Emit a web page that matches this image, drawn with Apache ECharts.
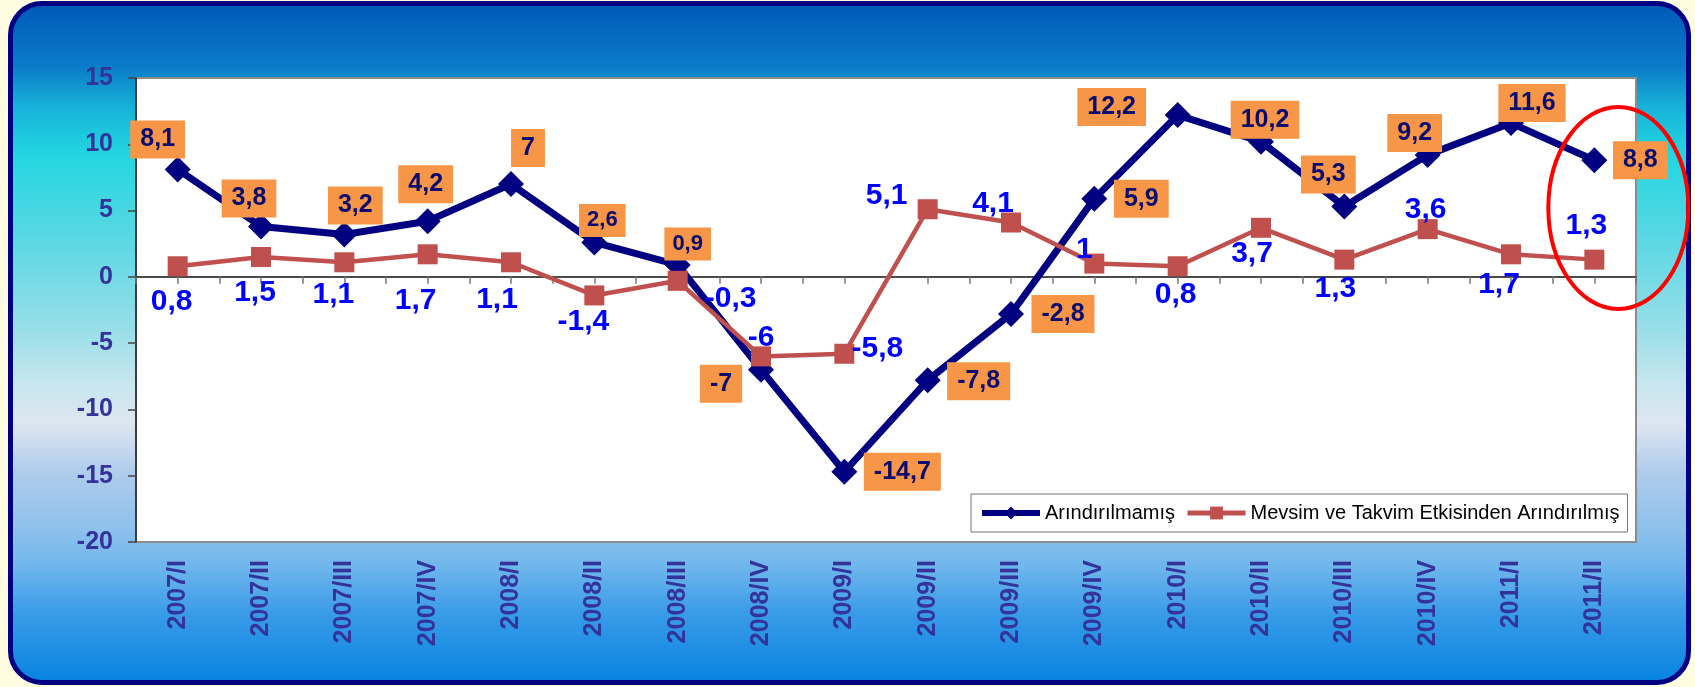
<!DOCTYPE html>
<html>
<head>
<meta charset="utf-8">
<script src="https://cdn.jsdelivr.net/npm/echarts@6/dist/echarts.min.js"></script>
<style>
html,body{margin:0;padding:0;width:1695px;height:687px;overflow:hidden;background:#fffce2;}
#frame{position:absolute;left:8px;top:1px;width:1683px;height:684px;box-sizing:border-box;border:5px solid #000080;border-radius:34px;
background:linear-gradient(to bottom,#005ab8 0%,#0a7cc8 9%,#18b2d8 15%,#22d6e0 22%,#5cd8e4 35%,#98dee8 48%,#c8e6ee 56%,#dde6f0 62%,#b0ccec 69%,#8cc0ec 78%,#70b6ec 83%,#3a9ce8 90%,#0884e0 100%);}
#chart{position:absolute;left:0;top:0;width:1695px;height:687px;}
</style>
</head>
<body>
<div id="frame"></div>
<div id="chart"></div>
<script>
const categories = ['2007/I','2007/II','2007/III','2007/IV','2008/I','2008/II','2008/III','2008/IV','2009/I','2009/II','2009/III','2009/IV','2010/I','2010/II','2010/III','2010/IV','2011/I','2011/II'];
const seriesNames = ['Arındırılmamış','Mevsim ve Takvim Etkisinden Arındırılmış'];
const rawValues = [8.1,3.8,3.2,4.2,7,2.6,0.9,-7,-14.7,-7.8,-2.8,5.9,12.2,10.2,5.3,9.2,11.6,8.8];
const adjValues = [0.8,1.5,1.1,1.7,1.1,-1.4,-0.3,-6,-5.8,5.1,4.1,1,0.8,3.7,1.3,3.6,1.7,1.3];
const yTicks = {min:-20, max:15, interval:5};

// label placement (pixel offsets from each point)
const rawLabelOffsets = [[-20,-30],[-12,-28],[11,-29],[-2,-37],[17,-36],[8,-22],[10,-21],[-40,14],[58,0],[51,1],[52,0],[47,0],[-66,-8],[4,-22],[-16,-32],[-13,-22],[21,-20],[46,0]];
const rawLabelSmall = [5,6];
const adjLabelOffsets = [[-6,35],[-6,36],[-11,32],[-12,46],[-14,37],[-11,26],[53,18],[0,-19],[33,-5],[-41,-14],[-18,-19],[-10,-14],[-2,28],[-9,26],[-9,29],[-2,-19],[-12,30],[-8,-34]];

const fmt = v => String(v).replace('.', ',');
const FONT = '"Liberation Sans", Arial, sans-serif';

const rawData = rawValues.map((v,i)=>({
  value:v,
  label:rawLabelSmall.includes(i)
    ? {offset:rawLabelOffsets[i], fontSize:22, padding:[6,8,5,8]}
    : {offset:rawLabelOffsets[i]}
}));
const adjData = adjValues.map((v,i)=>({
  value:v,
  label:{offset:adjLabelOffsets[i]}
}));

const chart = echarts.init(document.getElementById('chart'), null, {renderer:'canvas'});
const option = {
  backgroundColor:'transparent',
  animation:false,
  textStyle:{fontFamily:FONT},
  grid:{left:136, right:59, top:78, bottom:145, show:true, backgroundColor:'#ffffff', borderColor:'#8c8c8c', borderWidth:2},
  legend:{
    left:971, top:494, orient:'horizontal',
    backgroundColor:'#ffffff', borderColor:'#777', borderWidth:1,
    padding:[9,8], itemGap:10, itemWidth:58, itemHeight:16,
    textStyle:{fontSize:20, color:'#000', fontFamily:FONT},
    data:[
      {name:seriesNames[0], lineStyle:{width:6, color:'#000080'}},
      {name:seriesNames[1], lineStyle:{width:5, color:'#c0504d'}}
    ]
  },
  xAxis:[{
    type:'category', data:categories, boundaryGap:true, position:'bottom',
    axisLine:{show:false, onZero:false}, axisTick:{show:false},
    axisLabel:{rotate:90, margin:18, fontSize:25, fontWeight:'bold', color:'#333399', fontFamily:FONT, interval:0},
    splitLine:{show:false}
  },{
    type:'value', min:0, max:categories.length*2, interval:1, position:'top',
    axisLine:{show:true, onZero:true, lineStyle:{color:'#111', width:1.5}},
    axisTick:{show:true, inside:true, length:7, lineStyle:{color:'#777', width:1.5}},
    axisLabel:{show:false}, splitLine:{show:false}
  }],
  yAxis:{
    type:'value', min:yTicks.min, max:yTicks.max, interval:yTicks.interval,
    axisLine:{show:true, onZero:false, lineStyle:{color:'#222', width:1.5}},
    axisTick:{show:true, length:8, lineStyle:{color:'#444', width:1.5}},
    axisLabel:{margin:23, fontSize:25, fontWeight:'bold', color:'#333399', fontFamily:FONT},
    splitLine:{show:false}
  },
  series:[{
    name:seriesNames[0], type:'line', xAxisIndex:0, yAxisIndex:0,
    data:rawData, symbol:'diamond', symbolSize:26,
    lineStyle:{color:'#000080', width:7}, itemStyle:{color:'#000080'},
    label:{show:true, position:'inside', formatter:p=>fmt(p.value),
      backgroundColor:'#f79646', color:'#0a0a70', fontWeight:'bold', fontSize:25, fontFamily:FONT,
      padding:[7,10,6,10], align:'center', verticalAlign:'middle'},
    z:3
  },{
    name:seriesNames[1], type:'line', xAxisIndex:0, yAxisIndex:0,
    data:adjData, symbol:'rect', symbolSize:20,
    lineStyle:{color:'#c0504d', width:4.5}, itemStyle:{color:'#c0504d'},
    label:{show:true, position:'inside', formatter:p=>fmt(p.value),
      color:'#0000ff', fontWeight:'bold', fontSize:30, fontFamily:FONT, align:'center', verticalAlign:'middle'},
    z:4
  }]
};
chart.setOption(option);

// highlight ellipse around the last period
const last = categories.length-1;
const c = chart.convertToPixel({xAxisIndex:0, yAxisIndex:0}, [last, (rawValues[last]+adjValues[last])/2]);
chart.setOption({graphic:[{
  type:'ellipse', z:100, silent:true,
  shape:{cx:c[0]+24, cy:c[1]-2, rx:70, ry:101},
  style:{fill:'none', stroke:'#ff0000', lineWidth:4}
}]});
</script>
</body>
</html>
